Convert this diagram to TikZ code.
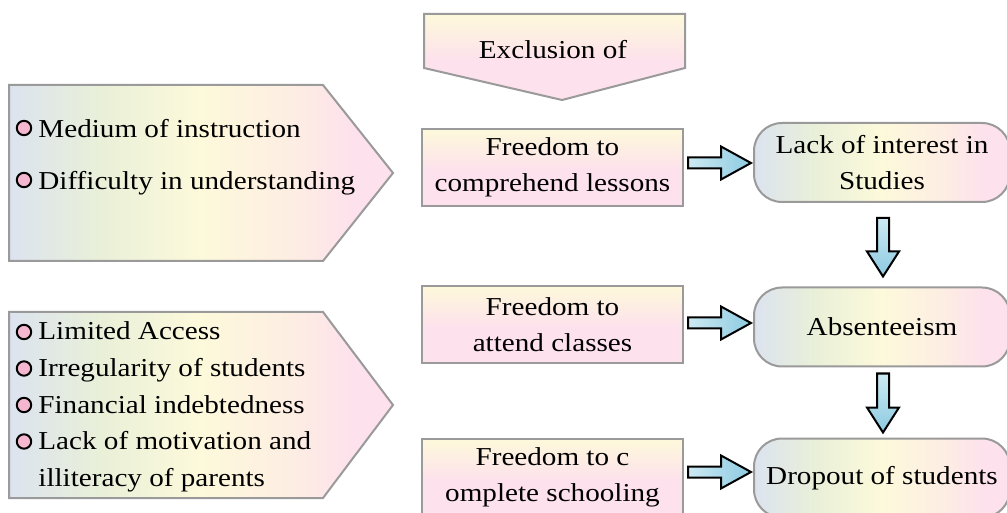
\documentclass[tikz,border=0pt]{standalone}
\usepackage{fontspec}
\setmainfont[FakeStretch=1.13]{Liberation Serif}
\usetikzlibrary{calc}

\definecolor{pbluegray}{HTML}{DCE3EF}
\definecolor{pgreen}{HTML}{E9F0D8}
\definecolor{pyellow}{HTML}{FDF9DB}
\definecolor{ppeach}{HTML}{FDEDE3}
\definecolor{ppink}{HTML}{FDE1EC}
\definecolor{boxgray}{HTML}{9A9A9A}
\definecolor{dotpink}{HTML}{F5B7CF}
\definecolor{arrowpale}{HTML}{CDEAF3}
\definecolor{arrowdeep}{HTML}{8CCAE1}

% left to right pastel band
\pgfdeclarehorizontalshading{pastel}{100bp}{color(0bp)=(pbluegray); color(25bp)=(pbluegray);
  color(37bp)=(pgreen); color(50bp)=(pyellow); color(62bp)=(ppeach); color(70bp)=(ppink);
  color(100bp)=(ppink)}
% yellow on top, pink below
\pgfdeclareverticalshading{sunset}{100bp}{color(0bp)=(ppink); color(25bp)=(ppink);
  color(48bp)=(ppink); color(75bp)=(pyellow); color(100bp)=(pyellow)}

\tikzset{
  txt/.style={font=\fontsize{12.9}{18}\selectfont},
  listtext/.style={txt, anchor=base west, inner sep=0pt},
  bulletdot/.style={draw=black, line width=1pt, fill=dotpink},
  causebox/.style={draw=boxgray, line width=1pt, shading=pastel},
  freebox/.style={txt, draw=boxgray, line width=1pt, shading=sunset, align=center,
    minimum width=130.5pt, minimum height=38.5pt, inner sep=1pt},
  endbox/.style={txt, draw=boxgray, line width=1pt, shading=pastel, align=center,
    rounded corners=14pt, minimum width=128pt, minimum height=39.5pt, inner sep=1pt},
  blockarrow/.style={draw=black, line width=1pt, line join=miter}
}

% fat arrows pointing right / down
\newcommand\hblock[2]{%
  \path[blockarrow, left color=arrowpale, right color=arrowdeep] let \p1=#1, \p2=#2 in
    (\x1,\y1+2.75pt) -- (\x2-15pt,\y1+2.75pt) -- (\x2-15pt,\y1+8.25pt) -- (\x2,\y1)
    -- (\x2-15pt,\y1-8.25pt) -- (\x2-15pt,\y1-2.75pt) -- (\x1,\y1-2.75pt) -- cycle;}
\newcommand\vblock[2]{%
  \path[blockarrow, top color=arrowpale, bottom color=arrowdeep] let \p1=#1, \p2=#2 in
    (\x1-3pt,\y1) -- (\x1+3pt,\y1) -- (\x1+3pt,\y2+12.5pt) -- (\x1+8pt,\y2+12.5pt)
    -- (\x1,\y2) -- (\x1-8pt,\y2+12.5pt) -- (\x1-3pt,\y2+12.5pt) -- cycle;}

\begin{document}
\begin{tikzpicture}[x=0.5pt, y=-0.5pt]
  \useasboundingbox (0,0) rectangle (1007,513);
  \fill[white] (0,0) rectangle (1007,513);

  % heading arrow
  \path[draw=boxgray, line width=1pt, shading=sunset]
    (424,14) -- (685,14) -- (685,68) -- (562,100) -- (424,68) -- cycle;
  \node[txt] (excl) at (553,50) {Exclusion of};

  % causes, upper block
  \path[causebox] (9,85) -- (323,85) -- (393,173) -- (323,261) -- (9,261) -- cycle;
  \foreach \txt [count=\i] in {Medium of instruction, Difficulty in understanding}{
    \node[listtext] (lang\i) at (38,86+52*\i) {\txt};
    \draw[bulletdot] ($(lang\i.base west)+(-14,-10)$) circle[radius=3.6pt];
  }

  % causes, lower block
  \path[causebox] (9,312) -- (323,312) -- (393,405) -- (323,498) -- (9,498) -- cycle;
  \foreach \txt [count=\i] in {Limited Access, Irregularity of students,
      Financial indebtedness, Lack of motivation and}{
    \node[listtext] (soc\i) at (38,303.5+36.5*\i) {\txt};
    \draw[bulletdot] ($(soc\i.base west)+(-14,-8)$) circle[radius=3.6pt];
  }
  \node[listtext] (soc5) at (38,486) {illiteracy of parents};

  % freedoms
  \node[freebox] (f1) at (552.5,167.5) {Freedom to\\comprehend lessons};
  \node[freebox] (f2) at (552.5,324.5) {Freedom to\\attend classes};
  \node[freebox] (f3) at (552.5,477.5) {Freedom to c\\omplete schooling};

  % results
  \node[endbox] (l1) at (882,162.5) {Lack of interest in\\Studies};
  \node[endbox] (l2) at (882,327) {Absenteeism};
  \node[endbox] (l3) at (882,478) {Dropout of students};

  \hblock{($(f1.east)+(4,-4.5)$)}{($(l1.west)+(-2,0)$)}
  \hblock{($(f2.east)+(4,-1.5)$)}{($(l2.west)+(-2,0)$)}
  \hblock{($(f3.east)+(4,-5.5)$)}{($(l3.west)+(-2,0)$)}

  \vblock{($(l1.south)+(1,15)$)}{($(l2.north)+(0,-10)$)}
  \vblock{($(l2.south)+(1,6)$)}{($(l3.north)+(0,-5)$)}
\end{tikzpicture}
\end{document}
